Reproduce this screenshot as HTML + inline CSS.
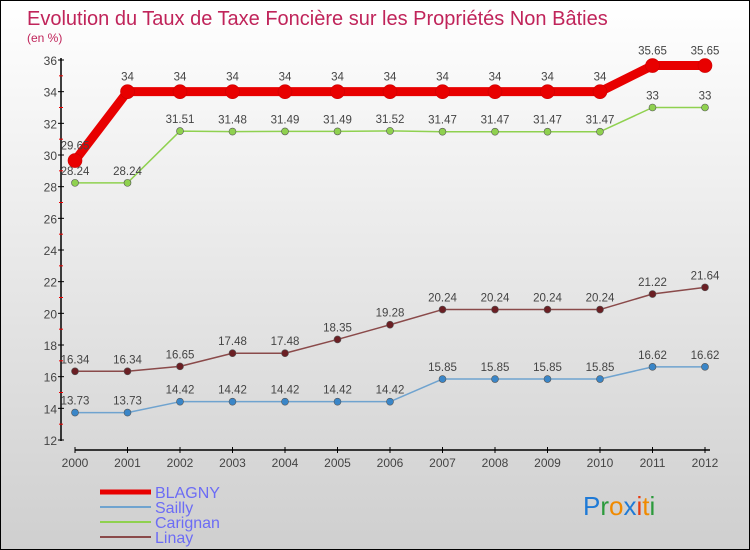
<!DOCTYPE html>
<html><head><meta charset="utf-8"><style>
body{margin:0;width:750px;height:550px;overflow:hidden;font-family:"Liberation Sans",sans-serif}
#c{position:absolute;left:0;top:0;width:748px;height:548px;border:1px solid #000;background:linear-gradient(#ffffff,#cfcfcf)}
</style></head><body>
<div id="c">
<svg id="s" width="750" height="550" style="position:absolute;left:-1px;top:-1px"></svg>
</div>
<script>
const years=[2000,2001,2002,2003,2004,2005,2006,2007,2008,2009,2010,2011,2012];
const blagny=[29.65,34,34,34,34,34,34,34,34,34,34,35.65,35.65];
const sailly=[13.73,13.73,14.42,14.42,14.42,14.42,14.42,15.85,15.85,15.85,15.85,16.62,16.62];
const carignan=[28.24,28.24,31.51,31.48,31.49,31.49,31.52,31.47,31.47,31.47,31.47,33,33];
const linay=[16.34,16.34,16.65,17.48,17.48,18.35,19.28,20.24,20.24,20.24,20.24,21.22,21.64];
const yTicks=[12,14,16,18,20,22,24,26,28,30,32,34,36];
const series=[
 {name:'Linay',data:linay,color:'#6b1f24',line:'#8a4a4a',w:1.5,r:3.5,key:'linay'},
 {name:'Sailly',data:sailly,color:'#3a86c8',line:'#6fa3cf',w:1.5,r:3.5,key:'sailly'},
 {name:'Carignan',data:carignan,color:'#8fd14f',line:'#8fd14f',w:1.5,r:3.5,key:'carignan'},
 {name:'BLAGNY',data:blagny,color:'#e80000',line:'#e80000',w:9,r:7,key:'blagny'}
];
const s=document.getElementById('s');const NS='http://www.w3.org/2000/svg';
function X(i){return 75+i*52.5}
function Y(v){return 440-(v-12)*(380/24)}
function el(t,a,p){const e=document.createElementNS(NS,t);for(const k in a)e.setAttribute(k,a[k]);(p||s).appendChild(e);return e}
function tx(x,y,str,a){const e=el('text',Object.assign({x:x,y:y},a));e.textContent=str;return e}
let t=tx(27,25,'Evolution du Taux de Taxe Foncière sur les Propriétés Non Bâties',{fill:'#c0245a','font-size':20});


t=tx(27,42,'(en %)',{fill:'#c0245a','font-size':12});


let a=el('line',{x1:61,y1:58,x2:61,y2:441,stroke:'#000','stroke-width':1.5});


a=el('line',{x1:75,y1:450,x2:710,y2:450,stroke:'#000','stroke-width':1.5});


yTicks.forEach((v,i)=>{
 el('line',{x1:58,y1:Y(v),x2:64,y2:Y(v),stroke:'#000'});
 if(i<yTicks.length-1)el('line',{x1:59,y1:Y(v+1),x2:63,y2:Y(v+1),stroke:'#e00'});
 const l=tx(57,Y(v)+5,String(v),{fill:'#444','font-size':12,'text-anchor':'end'});
 
 
});
years.forEach((y,i)=>{
 el('line',{x1:X(i),y1:447,x2:X(i),y2:453,stroke:'#000'});
 const l=tx(X(i),467,String(y),{fill:'#444','font-size':12,'text-anchor':'middle'});
 
 
});
series.forEach(se=>{
 const g=el('g',{});
 
 
 const pts=se.data.map((v,i)=>X(i)+','+Y(v)).join(' ');
 el('polyline',{points:pts,fill:'none',stroke:se.line,'stroke-width':se.w,'stroke-linejoin':'round'},g);
 se.data.forEach((v,i)=>{
  const c=el('circle',{cx:X(i),cy:Y(v),r:se.r,fill:se.color,stroke:se.key==='blagny'?'#c00':'#555','stroke-width':0.6},g);
  
  
  const l=tx(X(i),Y(v)-(se.key==='blagny'?11:8),String(v),{fill:'#444','font-size':11.5,'text-anchor':'middle'},g);
  
  
 });
});
const leg=[['BLAGNY','#e80000',5],['Sailly','#6fa3cf',2],['Carignan','#8fd14f',2],['Linay','#8a4a4a',2]];
leg.forEach((L,i)=>{
 const g=el('g',{});
 
 
 const y=492+i*15;
 el('line',{x1:100,y1:y,x2:151,y2:y,stroke:L[1],'stroke-width':L[2]},g);
 tx(155,y+6,L[0],{fill:'#6c6cf5','font-size':16},g);
});
const lg=el('text',{x:583,y:515,'font-size':26,'font-family':'Liberation Sans, sans-serif'});


[['P','#1f7ad6'],['r','#2c9a3c'],['o','#f08a00'],['x','#1f7ad6'],['i','#e83a10'],['t','#f08a00'],['i','#2c9a3c']].forEach(p=>{const sp=el('tspan',{fill:p[1]},lg);sp.textContent=p[0];});
</script>
</body></html>
